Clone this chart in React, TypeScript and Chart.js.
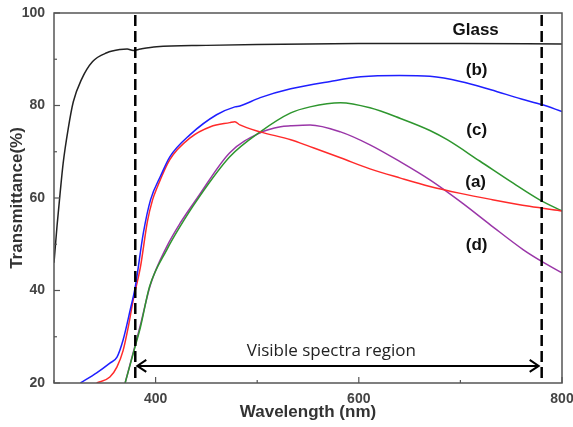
import React, { useEffect, useRef } from "react";
import { Chart, registerables } from "chart.js";

Chart.register(...registerables);

// ---- data (wavelength nm / transmittance %) ----
const glassX = [300, 303, 306, 309, 314, 319, 327, 338, 352, 365, 372, 378, 385, 401, 450, 500, 600, 700, 800];
const glassY = [46, 54, 61, 67.5, 75, 80.8, 85.6, 89.5, 91.4, 92.1, 92.2, 91.9, 92.2, 92.7, 93, 93.2, 93.4, 93.4, 93.3];

const bX = [326, 342, 355, 362, 368, 375, 380, 388, 395, 405, 414, 434, 460, 478, 483, 503, 533, 572, 602, 640, 670, 700, 730, 760, 780, 800];
const bY = [20, 22.2, 24.3, 25.6, 29.3, 35.8, 40.8, 52.5, 59.6, 64.8, 68.9, 73.7, 78, 79.7, 79.9, 81.7, 83.6, 85.2, 86.2, 86.5, 86.3, 85.2, 83.4, 81.4, 80.2, 78.7];

const aX = [342, 355, 362, 368, 373, 378, 385, 392, 397, 401, 414, 434, 454, 473, 478, 483, 503, 533, 552, 582, 611, 641, 670, 700, 730, 768, 800];
const aY = [20, 21.3, 23.5, 27, 32, 38, 45, 55, 59.6, 62, 68.3, 73, 75.4, 76.3, 76.5, 75.8, 74.3, 72.6, 71.1, 68.7, 66.3, 64.3, 62.5, 61, 59.7, 58.2, 57.2];

const cX = [370, 380, 385, 394, 411, 424, 441, 473, 503, 533, 552, 582, 611, 641, 670, 687, 719, 752, 778, 800];
const cY = [20, 28, 32, 40.8, 48.8, 53.8, 59.6, 68.9, 74.3, 78.4, 79.7, 80.6, 79.5, 77.2, 74.6, 72.6, 68, 63.2, 59.6, 57.2];

const dX = [370, 380, 385, 395, 411, 424, 441, 473, 503, 523, 533, 552, 582, 611, 641, 670, 700, 730, 762, 780, 800];
const dY = [20, 28.3, 32.5, 41.3, 49.5, 54.5, 60, 69.8, 74.1, 75.4, 75.6, 75.8, 74.3, 71.5, 67.8, 63.9, 59.2, 54.1, 48.8, 46.3, 43.8];

const seriesNames = ["Glass", "(b)", "(a)", "(c)", "(d)"];
const seriesColors = ["#222222", "#1f1fff", "#ff2a2a", "#2e962e", "#9a36a8"];

const labelText = ["Glass", "(b)", "(c)", "(a)", "(d)"];
const labelX = [715, 716, 716, 715, 716];
const labelY = [96.3, 87.7, 74.7, 63.5, 49.8];

const visibleBounds = [380, 780];
const arrowY = 23.7;
const regionText = "Visible spectra region";
const regionX = 573;
const regionY = 26.9;

const xMin = 300, xMax = 800, xStep = 100;
const yMin = 20, yMax = 100, yStep = 10;
const xLabelTicks = [400, 600, 800];
const yLabelTicks = [20, 40, 60, 80, 100];

const pts = (xs: number[], ys: number[]) => xs.map((x, i) => ({ x, y: ys[i] }));
const seriesData = [pts(glassX, glassY), pts(bX, bY), pts(aX, aY), pts(cX, cY), pts(dX, dY)];

const overlay = {
  id: "overlay",
  afterDatasetsDraw(chart: any) {
    const { ctx, chartArea: a, scales } = chart;
    const x = scales.x, y = scales.y;
    ctx.save();
    // frame
    ctx.strokeStyle = "#555";
    ctx.lineWidth = 1.5;
    ctx.strokeRect(a.left, a.top, a.right - a.left, a.bottom - a.top);
    // inward ticks
    ctx.lineWidth = 1.2;
    for (let v = xMin; v <= xMax; v += xStep) {
      const px = x.getPixelForValue(v);
      const len = xLabelTicks.includes(v) ? 6 : 3;
      ctx.beginPath();
      ctx.moveTo(px, a.bottom);
      ctx.lineTo(px, a.bottom - len);
      ctx.stroke();
    }
    for (let v = yMin; v <= yMax; v += yStep) {
      const py = y.getPixelForValue(v);
      const len = yLabelTicks.includes(v) ? 6 : 3;
      ctx.beginPath();
      ctx.moveTo(a.left, py);
      ctx.lineTo(a.left + len, py);
      ctx.stroke();
    }
    // dashed vertical lines
    ctx.strokeStyle = "#000";
    ctx.lineWidth = 2.5;
    ctx.setLineDash([11, 5]);
    visibleBounds.forEach((v) => {
      const px = x.getPixelForValue(v);
      ctx.beginPath();
      ctx.moveTo(px, a.top + 2);
      ctx.lineTo(px, a.bottom);
      ctx.stroke();
    });
    ctx.setLineDash([]);
    // double arrow
    const x1 = x.getPixelForValue(visibleBounds[0]) + 2;
    const x2 = x.getPixelForValue(visibleBounds[1]) - 3;
    const ay = y.getPixelForValue(arrowY);
    ctx.lineWidth = 2;
    ctx.beginPath();
    ctx.moveTo(x1, ay);
    ctx.lineTo(x2, ay);
    ctx.moveTo(x1 + 9, ay - 6);
    ctx.lineTo(x1, ay);
    ctx.lineTo(x1 + 9, ay + 6);
    ctx.moveTo(x2 - 9, ay - 6);
    ctx.lineTo(x2, ay);
    ctx.lineTo(x2 - 9, ay + 6);
    ctx.stroke();
    // labels
    ctx.fillStyle = "#111";
    ctx.textAlign = "center";
    ctx.textBaseline = "middle";
    ctx.font = "bold 17px 'Liberation Sans', Arial, sans-serif";
    labelText.forEach((t, i) => {
      ctx.fillText(t, x.getPixelForValue(labelX[i]), y.getPixelForValue(labelY[i]));
    });
    ctx.font = "17px 'Open Sans', sans-serif";
    ctx.fillStyle = "#222";
    ctx.fillText(regionText, x.getPixelForValue(regionX), y.getPixelForValue(regionY));
    ctx.restore();
  },
};

const noPad = (s: any) => {
  s.paddingLeft = 0;
  s.paddingRight = 0;
  s.paddingTop = 0;
  s.paddingBottom = 0;
};

export default function App() {
  const ref = useRef<HTMLCanvasElement>(null);
  useEffect(() => {
    if (!ref.current) return;
    const chart = new Chart(ref.current, {
      type: "line",
      data: {
        datasets: seriesData.map((d, i) => ({
          label: seriesNames[i],
          data: d,
          borderColor: seriesColors[i],
          borderWidth: 1.5,
          pointRadius: 0,
          fill: false,
          cubicInterpolationMode: "monotone" as const,
        })),
      },
      options: {
        animation: false,
        responsive: false,
        devicePixelRatio: 1,
        parsing: false as any,
        layout: { padding: { top: 13, right: 11, left: 0, bottom: 0 } },
        plugins: { legend: { display: false }, tooltip: { enabled: false } },
        scales: {
          x: {
            type: "linear",
            min: xMin,
            max: xMax,
            grid: { display: false, drawTicks: false },
            border: { display: false },
            ticks: {
              stepSize: xStep,
              autoSkip: false,
              maxRotation: 0,
              padding: 8,
              color: "#444",
              font: { family: "'Liberation Sans', Arial, sans-serif", size: 14, weight: "bold" },
              callback: (v: any) => (xLabelTicks.includes(Number(v)) ? String(v) : ""),
            },
            title: {
              display: true,
              text: "Wavelength (nm)",
              color: "#333",
              font: { family: "'Liberation Sans', Arial, sans-serif", size: 17, weight: "bold" },
              padding: { top: 0, bottom: 4 },
            },
            afterFit: (s: any) => { s.height = 44; noPad(s); },
          },
          y: {
            type: "linear",
            min: yMin,
            max: yMax,
            grid: { display: false, drawTicks: false },
            border: { display: false },
            ticks: {
              stepSize: yStep,
              autoSkip: false,
              padding: 9,
              color: "#444",
              font: { family: "'Liberation Sans', Arial, sans-serif", size: 14, weight: "bold" },
              callback: (v: any) => (yLabelTicks.includes(Number(v)) ? String(v) : ""),
            },
            title: {
              display: true,
              text: "Transmittance(%)",
              color: "#333",
              font: { family: "'Liberation Sans', Arial, sans-serif", size: 17, weight: "bold" },
              padding: { top: 7, bottom: 0 },
            },
            afterFit: (s: any) => { s.width = 54; noPad(s); },
          },
        },
      },
      plugins: [overlay],
    } as any);
    return () => chart.destroy();
  }, []);
  return (
    <div style={{ position: "fixed", left: 0, top: 0, width: 573, height: 427, background: "#fff" }}>
      <canvas ref={ref} width={573} height={427} style={{ width: 573, height: 427 }} />
    </div>
  );
}
